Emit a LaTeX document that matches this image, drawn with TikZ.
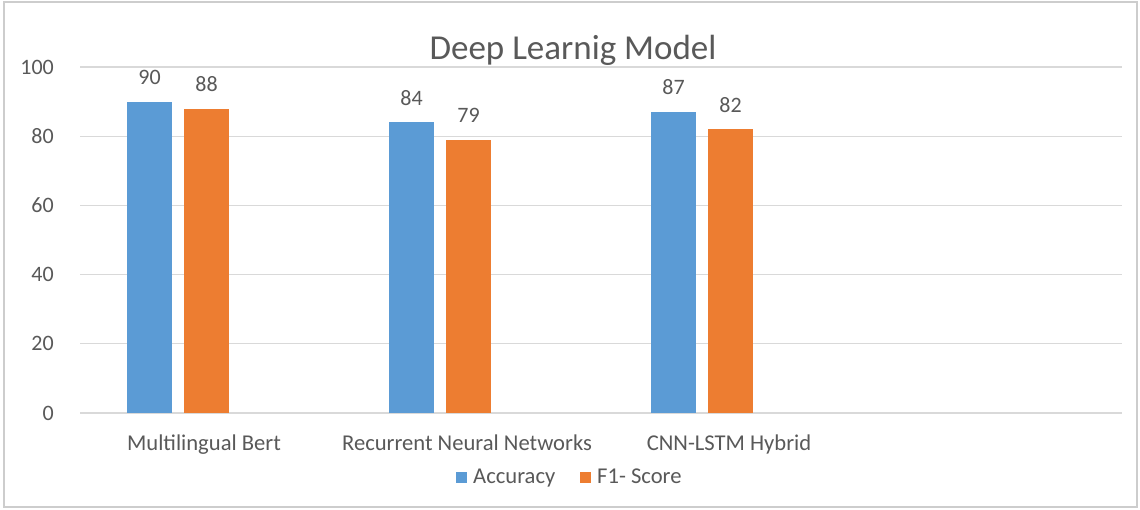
\documentclass[tikz,border=0pt]{standalone}
\usepackage{fontspec}
\setmainfont{Carlito}
\usetikzlibrary{positioning}
\definecolor{accblue}{RGB}{91,155,213}
\definecolor{fscore}{RGB}{237,125,49}
\definecolor{txtgray}{RGB}{89,89,89}
\definecolor{gridgray}{RGB}{217,217,217}
\definecolor{framegray}{RGB}{205,205,205}
\tikzset{
  lbl/.style={font=\fontsize{22}{26}\selectfont,text=txtgray,inner sep=0pt},
  catlbl/.style={lbl,font=\fontsize{22.6}{27}\selectfont},
  ttl/.style={font=\fontsize{35}{40}\selectfont,text=txtgray,inner sep=0pt},
  keybox/.style={minimum size=11pt,inner sep=0pt}
}
% one bar: left x, value, colour, name of its value label
\newcommand{\vbar}[4]{%
  \pgfmathsetmacro{\btop}{413-#2*3.46}%
  \fill[#3] (#1,413) rectangle (#1+45,\btop);%
  \node[lbl,anchor=base] (#4) at (#1+22.5,\btop-17) {#2};%
}

\begin{document}
\begin{tikzpicture}[x=1pt,y=-1pt]
  \fill[white] (0,0) rectangle (1140,510);
  \useasboundingbox (0,0) rectangle (1140,510);
  \draw[framegray,line width=1.2pt] (4,2) rectangle (1137,507);

  \node[ttl,anchor=base] (title) at (573,60) {Deep Learnig Model};

  % grid and value axis
  \foreach \v in {0,20,...,100}{
    \draw[gridgray,line width=1.3pt] (80,413-\v*3.46) -- (1122,413-\v*3.46);
    \node[lbl,anchor=east] (tick\v) at (54,413-\v*3.46) {\v};
  }

  % bars
  \foreach \a/\f [count=\i from 0] in {90/88,84/79,87/82}{
    \vbar{127+262*\i}{\a}{accblue}{acc\i}
    \vbar{184+262*\i}{\f}{fscore}{fs\i}
  }

  % categories
  \node[catlbl,anchor=base] (catbert) at (204,450) {Multilingual Bert};
  \node[catlbl,anchor=base] (catrnn) at (467,450) {Recurrent Neural Networks};
  \node[catlbl,anchor=base] (catcnn) at (729,450) {CNN-LSTM Hybrid};

  % legend
  \node[keybox,fill=accblue] (keyacc) at (461,477.5) {};
  \node[catlbl,anchor=base west] (legacc) at (473,483) {Accuracy};
  \node[keybox,fill=fscore] (keyfs) at (585,477.5) {};
  \node[catlbl,anchor=base west] (legfs) at (597,483) {F1- Score};
\end{tikzpicture}
\end{document}
